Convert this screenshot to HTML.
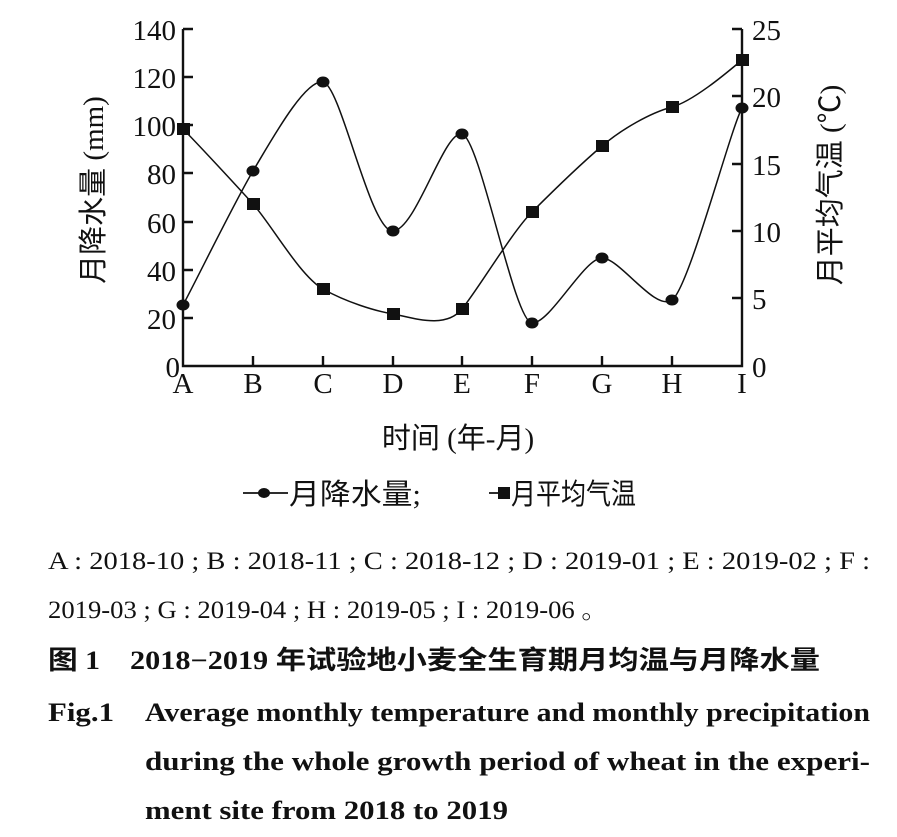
<!DOCTYPE html>
<html><head><meta charset="utf-8"><style>html,body{margin:0;padding:0;background:#fff}svg{display:block}</style></head>
<body>
<svg width="897" height="837" viewBox="0 0 897 837" xmlns="http://www.w3.org/2000/svg" font-family="Liberation Serif, Noto Serif CJK SC, serif" fill="#111">
<g stroke="#111" stroke-width="2.4" fill="none">
<path d="M183,29 V366 H742 V29"/>
<path d="M183,29h10M183,77h10M183,125h10M183,173h10M183,222h10M183,270h10M183,318h10"/>
<path d="M742,29h-10M742,96h-10M742,164h-10M742,231h-10M742,298h-10"/>
<path d="M253,366v-10M323,366v-10M393,366v-10M462,366v-10M532,366v-10M602,366v-10M672,366v-10"/>
</g>
<g stroke="#111" stroke-width="1.5" fill="none">
<path d="M183,305 C195,283 235,201 253,171 C271,141 305,79 323,82 C341,85 370,232 393,231 C416,230 444,130 462,134 C480,138 514,322 532,323 C550,324 584,258 602,258 C620,258 655,312 672,300 C689,288 730,130 742,108"/>
<path d="M183,129 C195,141 235,184 253,204 C271,224 300,276 323,289 C346,302 375,311 393,314 C411,317 445,330 462,309 C479,288 512,232 532,212 C552,192 582,163 602,146 C622,129 650,113 672,107 C694,101 730,70 742,60"/>
</g>
<g>
<ellipse cx="183" cy="305" rx="6.5" ry="5.5"/><ellipse cx="253" cy="171" rx="6.5" ry="5.5"/><ellipse cx="323" cy="82" rx="6.5" ry="5.5"/><ellipse cx="393" cy="231" rx="6.5" ry="5.5"/><ellipse cx="462" cy="134" rx="6.5" ry="5.5"/><ellipse cx="532" cy="323" rx="6.5" ry="5.5"/><ellipse cx="602" cy="258" rx="6.5" ry="5.5"/><ellipse cx="672" cy="300" rx="6.5" ry="5.5"/><ellipse cx="742" cy="108" rx="6.5" ry="5.5"/>
<rect x="177" y="123" width="13" height="12"/><rect x="247" y="198" width="13" height="12"/><rect x="317" y="283" width="13" height="12"/><rect x="387" y="308" width="13" height="12"/><rect x="456" y="303" width="13" height="12"/><rect x="526" y="206" width="13" height="12"/><rect x="596" y="140" width="13" height="12"/><rect x="666" y="101" width="13" height="12"/><rect x="736" y="54" width="13" height="12"/>
</g>
<g font-size="29" text-anchor="end">
<text x="176" y="40">140</text><text x="176" y="88">120</text><text x="176" y="136">100</text><text x="176" y="184">80</text><text x="176" y="233">60</text><text x="176" y="281">40</text><text x="176" y="329">20</text><text x="180" y="377">0</text>
</g>
<g font-size="29" text-anchor="start">
<text x="752" y="40">25</text><text x="752" y="107">20</text><text x="752" y="175">15</text><text x="752" y="242">10</text><text x="752" y="309">5</text><text x="752" y="377">0</text>
</g>
<g font-size="29" text-anchor="middle">
<text x="183" y="393">A</text><text x="253" y="393">B</text><text x="323" y="393">C</text><text x="393" y="393">D</text><text x="462" y="393">E</text><text x="532" y="393">F</text><text x="602" y="393">G</text><text x="672" y="393">H</text><text x="742" y="393">I</text>
</g>
<text transform="translate(103,190) rotate(-90)" font-size="29" text-anchor="middle" font-family="Liberation Serif, Noto Sans CJK SC, sans-serif">月降水量 (mm)</text>
<text transform="translate(840,185) rotate(-90)" font-size="29" text-anchor="middle" font-family="Liberation Serif, Noto Sans CJK SC, sans-serif">月平均气温 (℃)</text>
<text x="458" y="448" font-size="29" text-anchor="middle" font-family="Liberation Serif, Noto Sans CJK SC, sans-serif">时间 (年-月)</text>
<g stroke="#111" stroke-width="1.8"><path d="M243,493h45M489,493h20"/></g>
<ellipse cx="264" cy="493" rx="6" ry="5"/><rect x="498" y="487" width="12" height="12"/>
<text x="289" y="504" font-size="29" font-family="Liberation Serif, Noto Sans CJK SC, sans-serif" textLength="132" lengthAdjust="spacingAndGlyphs">月降水量;</text>
<text x="511" y="504" font-size="29" font-family="Liberation Serif, Noto Sans CJK SC, sans-serif" textLength="125" lengthAdjust="spacingAndGlyphs">月平均气温</text>
<g font-size="25">
<text x="48" y="569" textLength="822" lengthAdjust="spacingAndGlyphs">A : 2018-10 ; B : 2018-11 ; C : 2018-12 ; D : 2019-01 ; E : 2019-02 ; F :</text>
<text x="48" y="618" textLength="560" lengthAdjust="spacingAndGlyphs">2019-03 ; G : 2019-04 ; H : 2019-05 ; I : 2019-06 。</text>
</g>
<g font-size="26" font-weight="bold" font-family="Liberation Serif, Noto Sans CJK SC, sans-serif">
<text x="48" y="669" textLength="52" lengthAdjust="spacingAndGlyphs">图 1</text>
<text x="130" y="669" textLength="690" lengthAdjust="spacingAndGlyphs">2018−2019 年试验地小麦全生育期月均温与月降水量</text>
</g>
<g font-size="26" font-weight="bold">
<text x="48" y="721" textLength="66" lengthAdjust="spacingAndGlyphs">Fig.1</text>
<text x="145" y="721" textLength="725" lengthAdjust="spacingAndGlyphs">Average monthly temperature and monthly precipitation</text>
<text x="145" y="770" textLength="725" lengthAdjust="spacingAndGlyphs">during the whole growth period of wheat in the experi-</text>
<text x="145" y="819" textLength="363" lengthAdjust="spacingAndGlyphs">ment site from 2018 to 2019</text>
</g>
</svg>
</body></html>
